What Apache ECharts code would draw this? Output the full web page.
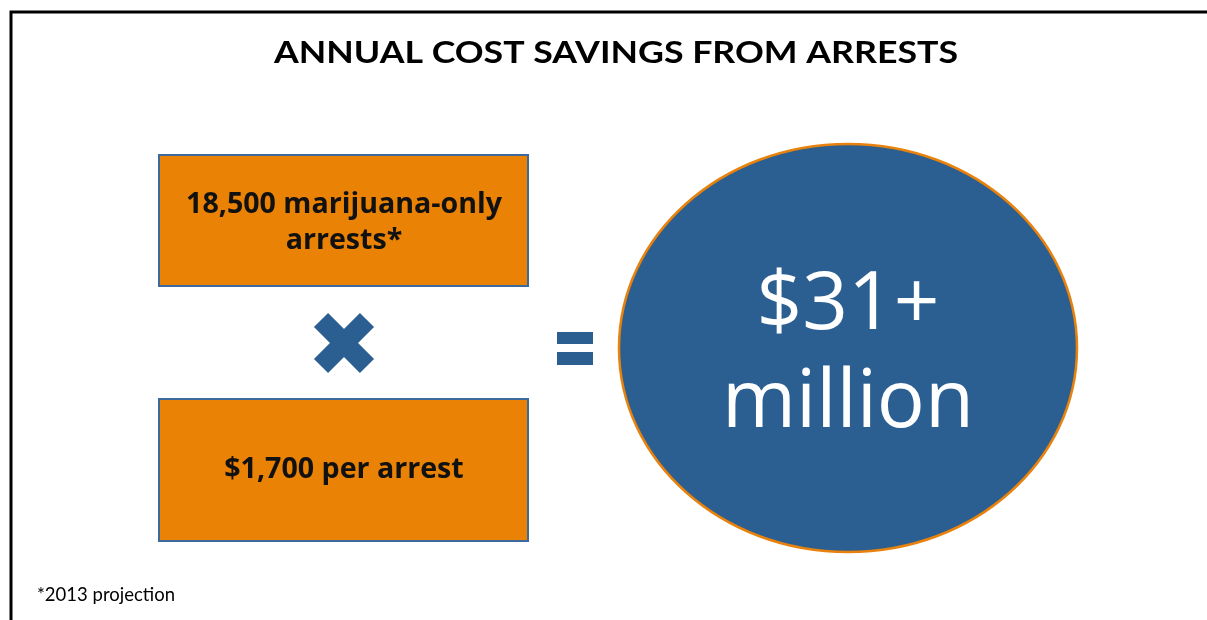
<!DOCTYPE html>
<html>
<head>
<meta charset="utf-8">
<script src="https://cdn.jsdelivr.net/npm/echarts@6/dist/echarts.min.js"></script>
<style>
  html, body { margin: 0; padding: 0; background: #ffffff; }
  #chart { width: 1207px; height: 620px; }
</style>
</head>
<body>
<div id="chart"></div>
<script>
// Figures behind the savings estimate
const titleText = ['ANNUAL COST SAVINGS FROM ARRESTS'];
const arrestCount = [18500];
const costPerArrest = [1700];
const factorLabels = ['marijuana-only', 'arrests*', 'per arrest'];
const resultLabels = ['$31+', 'million'];
const footnotes = ['*2013 projection'];

const fmt = n => n.toLocaleString('en-US');

const ORANGE = '#E98205';
const BLUE = '#2B5F91';
const BOX_EDGE = '#3D6A9C';

const chart = echarts.init(document.getElementById('chart'), null, { renderer: 'canvas' });

const boxText = {
  fill: '#111111',
  fontFamily: 'Open Sans',
  fontWeight: 'bold',
  fontSize: 28.6,
  align: 'center',
  verticalAlign: 'middle',
  lineHeight: 36
};

const resultText = {
  fill: '#ffffff',
  fontFamily: 'Open Sans',
  fontSize: 80,
  align: 'center',
  verticalAlign: 'middle'
};

chart.setOption({
  backgroundColor: '#ffffff',
  graphic: [
    // slide frame
    { type: 'rect', shape: { x: 11, y: 12, width: 1220, height: 640 },
      style: { fill: 'none', stroke: '#000000', lineWidth: 3 } },
    // heading (widened to the slide's display face)
    { type: 'text', x: 616, y: 53, scaleX: 1.19,
      style: { text: titleText[0], fill: '#000000', fontFamily: 'Lato', fontWeight: 'bold',
               fontSize: 30, align: 'center', verticalAlign: 'middle' } },
    // first factor: number of arrests
    { type: 'rect', shape: { x: 159, y: 155, width: 369, height: 131 },
      style: { fill: ORANGE, stroke: BOX_EDGE, lineWidth: 2 } },
    { type: 'text', x: 344, y: 223,
      style: Object.assign({}, boxText, {
        text: fmt(arrestCount[0]) + ' ' + factorLabels[0] + '\n' + factorLabels[1] }) },
    // multiplication sign
    { type: 'group', x: 344, y: 343, rotation: Math.PI / 4,
      children: [
        { type: 'rect', shape: { x: -32.5, y: -10, width: 65, height: 20 }, style: { fill: BLUE } },
        { type: 'rect', shape: { x: -10, y: -32.5, width: 20, height: 65 }, style: { fill: BLUE } }
      ] },
    // second factor: cost per arrest
    { type: 'rect', shape: { x: 159, y: 399, width: 369, height: 142 },
      style: { fill: ORANGE, stroke: BOX_EDGE, lineWidth: 2 } },
    { type: 'text', x: 344, y: 470,
      style: Object.assign({}, boxText, {
        text: '$' + fmt(costPerArrest[0]) + ' ' + factorLabels[2] }) },
    // equals sign
    { type: 'rect', shape: { x: 557, y: 332, width: 36, height: 12 }, style: { fill: BLUE } },
    { type: 'rect', shape: { x: 557, y: 352, width: 36, height: 13 }, style: { fill: BLUE } },
    // result
    { type: 'ellipse', shape: { cx: 848, cy: 348, rx: 229, ry: 204 },
      style: { fill: BLUE, stroke: '#E8820C', lineWidth: 2.5 } },
    { type: 'text', x: 848, y: 306,
      style: Object.assign({}, resultText, { text: resultLabels[0] }) },
    { type: 'text', x: 848, y: 404,
      style: Object.assign({}, resultText, { text: resultLabels[1] }) },
    // footnote
    { type: 'text', x: 37, y: 595,
      style: { text: footnotes[0], fill: '#000000', fontFamily: 'Lato', fontSize: 18.5,
               align: 'left', verticalAlign: 'middle' } }
  ]
});
</script>
</body>
</html>
